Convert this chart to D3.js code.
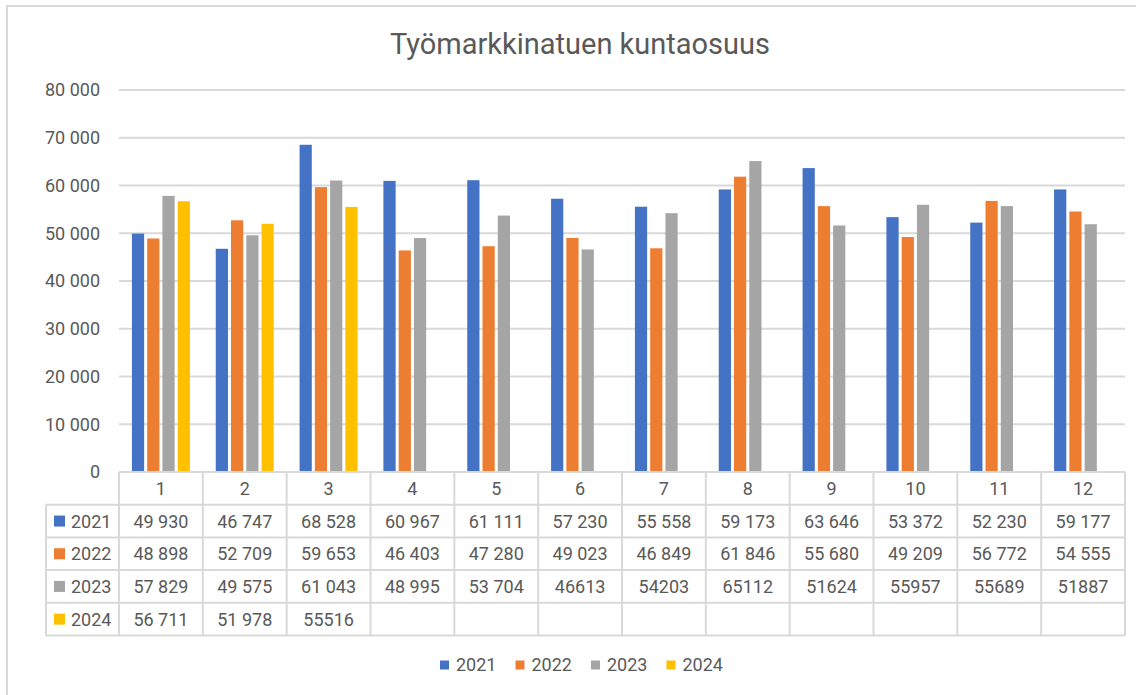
<!DOCTYPE html>
<html>
<head>
<meta charset="utf-8">
<script src="https://cdn.jsdelivr.net/npm/d3@7"></script>
<style>
  body { margin: 0; background: #fff; }
  text { font-family: Roboto, "Noto Sans", sans-serif; fill: #595959; }
</style>
</head>
<body>
<svg id="chart" width="1136" height="695"></svg>
<script>
var months = ['1', '2', '3', '4', '5', '6', '7', '8', '9', '10', '11', '12'];
var years = ['2021', '2022', '2023', '2024'];
var colors = ['#4472c4', '#ed7d31', '#a5a5a5', '#ffc000'];

var v2021 = [49930, 46747, 68528, 60967, 61111, 57230, 55558, 59173, 63646, 53372, 52230, 59177];
var v2022 = [48898, 52709, 59653, 46403, 47280, 49023, 46849, 61846, 55680, 49209, 56772, 54555];
var v2023 = [57829, 49575, 61043, 48995, 53704, 46613, 54203, 65112, 51624, 55957, 55689, 51887];
var v2024 = [56711, 51978, 55516];

// cells that the source table shows without a thousands space
var plain2023 = ['6', '7', '8', '9', '10', '11', '12'];
var plain2024 = ['3'];

var yTicks = [0, 10000, 20000, 30000, 40000, 50000, 60000, 70000, 80000];

var seriesValues = [v2021, v2022, v2023, v2024];
var seriesPlain = [[], [], plain2023, plain2024];

var left = 119, right = 1125, top_y = 90, base_y = 472;
var row_h = 32.7;
var grid = '#d9d9d9';

var fi = d3.formatLocale({decimal: ',', thousands: '\u00a0', grouping: [3], currency: ['', '']});
var fmt = fi.format(',');

var svg = d3.select('#chart');

// chart frame
svg.append('rect')
   .attr('x', 7).attr('y', 6)
   .attr('width', 1160).attr('height', 720)
   .attr('fill', 'none')
   .attr('stroke', grid)
   .attr('stroke-width', 2);

svg.append('text')
   .text('Työmarkkinatuen kuntaosuus')
   .attr('x', 580).attr('y', 54)
   .attr('text-anchor', 'middle')
   .style('font-size', '29px');

var x0 = d3.scaleBand().domain(months).range([left, right]);
var groupW = 58;
var x1 = d3.scaleBand().domain(years)
           .range([(x0.bandwidth() - groupW) / 2, (x0.bandwidth() + groupW) / 2])
           .paddingInner(0.2);
var y = d3.scaleLinear().domain([0, 80000]).range([base_y, top_y]);

// gridlines
svg.selectAll('line.grid')
   .data(yTicks.slice(1))
   .enter()
   .append('line')
   .attr('x1', left).attr('x2', right)
   .attr('y1', function(d){return y(d);})
   .attr('y2', function(d){return y(d);})
   .attr('stroke', grid)
   .attr('stroke-width', 2);

var yAxis = svg.append('g')
   .attr('transform', 'translate(100,0)')
   .call(d3.axisLeft(y).tickValues(yTicks).tickSize(0).tickPadding(0).tickFormat(fmt));
yAxis.select('.domain').remove();
yAxis.selectAll('text')
     .style('font-size', '18px')
     .style('font-family', 'Roboto, sans-serif')
     .attr('fill', '#595959');

// bars
years.forEach(function(yr, s){
    var rows = seriesValues[s].map(function(v, i){return {month: months[i], value: v};});
    svg.selectAll('rect.bar' + yr)
       .data(rows)
       .enter()
       .append('rect')
       .attr('x', function(d){return x0(d.month) + x1(yr);})
       .attr('width', x1.bandwidth())
       .attr('y', function(d){return y(d.value);})
       .attr('height', function(d){return y(0) - y(d.value);})
       .attr('fill', colors[s]);
});

// data table
var table = svg.append('g').attr('stroke', grid).attr('stroke-width', 2);
var tableLeft = 46;
var rowY = function(i){return base_y + row_h * (i + 1);};

table.append('line')
     .attr('x1', left).attr('x2', right)
     .attr('y1', base_y).attr('y2', base_y);
years.forEach(function(yr, i){
    table.append('line')
         .attr('x1', tableLeft).attr('x2', right)
         .attr('y1', rowY(i)).attr('y2', rowY(i));
});
table.append('line')
     .attr('x1', tableLeft).attr('x2', right)
     .attr('y1', rowY(years.length)).attr('y2', rowY(years.length));
table.append('line')
     .attr('x1', tableLeft).attr('x2', tableLeft)
     .attr('y1', rowY(0)).attr('y2', rowY(years.length));
table.selectAll('line.col')
     .data(months.concat(['end']))
     .enter()
     .append('line')
     .attr('x1', function(d){return d == 'end' ? right : x0(d);})
     .attr('x2', function(d){return d == 'end' ? right : x0(d);})
     .attr('y1', base_y)
     .attr('y2', rowY(years.length));

svg.selectAll('text.month')
   .data(months)
   .enter()
   .append('text')
   .text(function(d){return d;})
   .attr('x', function(d){return x0(d) + x0.bandwidth() / 2;})
   .attr('y', base_y + row_h / 2)
   .attr('dy', '0.36em')
   .attr('text-anchor', 'middle')
   .style('font-size', '18px');

years.forEach(function(yr, s){
    var cy = rowY(s) + row_h / 2;
    svg.append('rect')
       .attr('x', 54).attr('y', cy - 5.5)
       .attr('width', 11).attr('height', 11)
       .attr('fill', colors[s]);
    svg.append('text')
       .text(yr)
       .attr('x', 71).attr('y', cy)
       .attr('dy', '0.36em')
       .style('font-size', '18px');

    var rows = seriesValues[s].map(function(v, i){return {month: months[i], value: v};});
    svg.selectAll('text.val' + yr)
       .data(rows)
       .enter()
       .append('text')
       .text(function(d){
           return seriesPlain[s].indexOf(d.month) >= 0 ? String(d.value) : fmt(d.value);
       })
       .attr('x', function(d){return x0(d.month) + x0.bandwidth() / 2;})
       .attr('y', cy)
       .attr('dy', '0.36em')
       .attr('text-anchor', 'middle')
       .style('font-size', '18px');
});

// legend
var legStep = 75.5;
var legX = d3.scaleLinear().domain([0, 1]).range([440, 440 + legStep]);
var leg = svg.selectAll('g.legend')
   .data(years)
   .enter()
   .append('g')
   .attr('transform', function(d, i){return 'translate(' + legX(i) + ',665)';});
leg.append('rect')
   .attr('x', 0).attr('y', -4.5)
   .attr('width', 9).attr('height', 9)
   .attr('fill', function(d, i){return colors[i];});
leg.append('text')
   .text(function(d){return d;})
   .attr('x', 16).attr('dy', '0.36em')
   .style('font-size', '18px');
</script>
</body>
</html>
